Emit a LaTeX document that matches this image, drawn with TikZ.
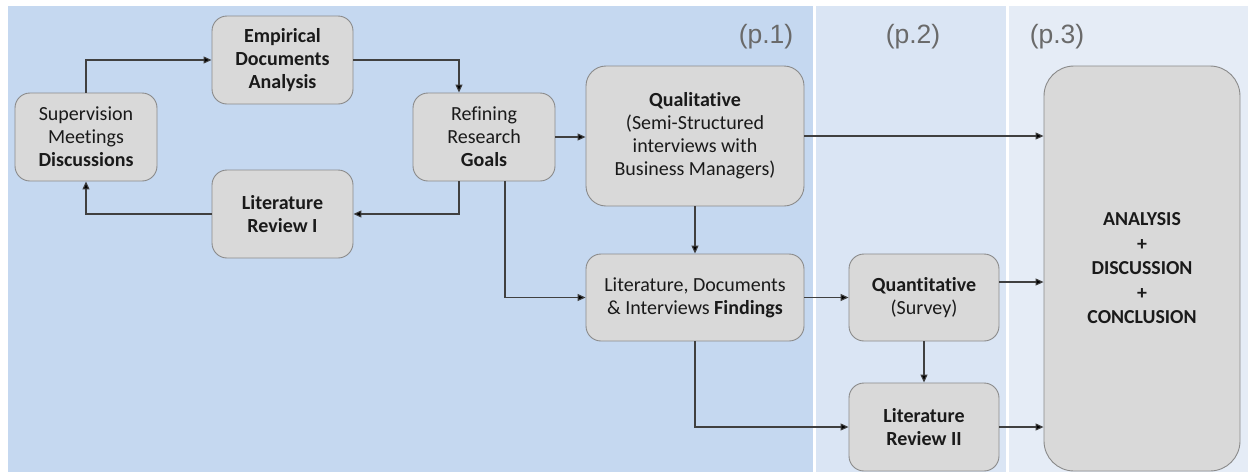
\documentclass[tikz,border=0pt]{standalone}
\usepackage{fontspec}
\setmainfont{Carlito}[Ligatures=NoCommon]
\newfontfamily\labfont{Liberation Sans}
\usetikzlibrary{arrows.meta}
\definecolor{panelA}{HTML}{C5D8F0}
\definecolor{panelB}{HTML}{DAE5F4}
\definecolor{panelC}{HTML}{E5ECF6}
\definecolor{boxfill}{HTML}{D9D9D9}
\definecolor{boxline}{HTML}{8A8A8A}
\definecolor{lineclr}{HTML}{404040}
\definecolor{labclr}{HTML}{6A6A6A}
\definecolor{txt}{HTML}{1A1A1A}
\tikzset{
  stepbox/.style={draw=boxline, line width=0.9pt, fill=boxfill, rounded corners=15pt,
    align=center, text=txt, inner sep=0pt,
    font=\fontsize{20}{23}\selectfont},
  arr/.style={draw=lineclr, line width=1.1pt, -{Triangle[length=8pt,width=7pt,fill=black]}},
  plabel/.style={text=labclr, font=\labfont\fontsize{26.5}{30}\selectfont, inner sep=0pt}
}
\begin{document}
\begin{tikzpicture}[x=1pt,y=-1pt]
\useasboundingbox (0,0) rectangle (1248,472);
\fill[white] (0,0) rectangle (1248,472);
\fill[panelA] (8,6) rectangle (813,472);
\fill[panelB] (816,6) rectangle (1006,472);
\fill[panelC] (1009,6) rectangle (1248,472);

\node[plabel] (p1) at (766,37) {(p.1)};
\node[plabel] (p2) at (913,37) {(p.2)};
\node[plabel] (p3) at (1057,37) {(p.3)};

\node[stepbox, minimum width=142pt, minimum height=88pt] (sup) at (86,137)
  {Supervision\\Meetings\\\textbf{Discussions}};
\node[stepbox, minimum width=141pt, minimum height=88pt] (emp) at (282.5,60)
  {\textbf{Empirical}\\\textbf{Documents}\\\textbf{Analysis}};
\node[stepbox, minimum width=141pt, minimum height=88pt] (lit1) at (282.5,214)
  {\textbf{Literature}\\\textbf{Review I}};
\node[stepbox, minimum width=142pt, minimum height=88pt] (ref) at (484,137)
  {Refining\\Research\\\textbf{Goals}};
\node[stepbox, rounded corners=20pt, minimum width=218pt, minimum height=140pt] (qual) at (695,136)
  {\textbf{Qualitative}\\(Semi-Structured\\interviews with\\Business Managers)};
\node[stepbox, minimum width=218pt, minimum height=87pt] (find) at (695,297.5)
  {Literature, Documents\\\& Interviews \textbf{Findings}};
\node[stepbox, minimum width=150pt, minimum height=87pt] (quant) at (924,297.5)
  {\textbf{Quantitative}\\(Survey)};
\node[stepbox, minimum width=150pt, minimum height=88pt] (lit2) at (924,427)
  {\textbf{Literature}\\\textbf{Review II}};
\node[stepbox, rounded corners=30pt, minimum width=196pt, minimum height=405pt,
  font=\fontsize{19.8}{24.5}\selectfont\bfseries] (ana) at (1142,268.5)
  {ANALYSIS\\+\\DISCUSSION\\+\\CONCLUSION};

\draw[arr] (sup.north) |- (emp.west);
\draw[arr] (emp.east) -| ([xshift=-25pt]ref.north);
\draw[arr] ([xshift=-25pt]ref.south) |- (lit1.east);
\draw[arr] (lit1.west) -| (sup.south);
\draw[arr] (ref.east) -- (ref.east -| qual.west);
\draw[arr] ([xshift=21pt]ref.south) |- (find.west);
\draw[arr] (qual.south) -- (find.north);
\draw[arr] (qual.east) -- (qual.east -| ana.west);
\draw[arr] (find.east) -- (quant.west);
\draw[arr] (find.south) |- (lit2.west);
\draw[arr] ([yshift=15.5pt]quant.east) -- ([yshift=15.5pt]quant.east -| ana.west);
\draw[arr] (quant.south) -- (lit2.north);
\draw[arr] (lit2.east) -- (lit2.east -| ana.west);
\end{tikzpicture}
\end{document}
